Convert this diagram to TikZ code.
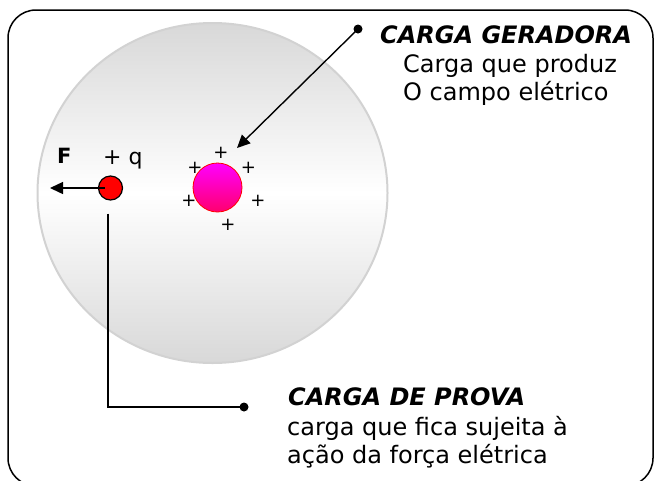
\documentclass[tikz,border=0pt]{standalone}
\usepackage{fontspec}
\setmainfont{DejaVu Sans}
\usetikzlibrary{arrows.meta}

\definecolor{discoCinza}{RGB}{216,216,216}
\definecolor{discoBorda}{RGB}{210,210,210}
\definecolor{magentaTopo}{RGB}{255,0,255}
\definecolor{magentaBase}{RGB}{255,0,110}

\tikzset{
    rotulo/.style={anchor=base west, inner sep=0pt, font=\fontsize{24}{28}\selectfont},
    titulo/.style={anchor=base west, inner sep=0pt, font=\fontsize{24}{28}\selectfont\bfseries\itshape},
    mais/.style={inner sep=0pt, font=\fontsize{18}{18}\selectfont},
    ponto/.style={circle, fill=black, inner sep=0pt, minimum size=9pt},
    seta/.style={line width=1.4pt, -{Triangle[length=13pt,width=12pt]}},
    ligacao/.style={line width=1.4pt},
}

\begin{document}
\begin{tikzpicture}[x=1pt, y=-1pt]
    \useasboundingbox (0,0) rectangle (655,480);
    % moldura
    \draw[line width=1.5pt, rounded corners=28pt] (8,10) rectangle (653,486);
    % disco do campo
    \shade[top color=discoCinza, bottom color=discoCinza, middle color=white]
        (212.5,193) ellipse [x radius=175, y radius=170];
    \draw[discoBorda, line width=2pt] (212.5,193) ellipse [x radius=175, y radius=170];

    % cargas
    \node[circle, draw=red, line width=0.8pt, top color=magentaTopo, bottom color=magentaBase,
          minimum width=47pt, minimum height=49pt, inner sep=0pt] (geradora) at (217.5,187.5) {};
    \foreach \n/\px/\py in {1/221/153, 2/195/168, 3/248.5/168, 4/189/201, 5/258/201, 6/228/225} {
        \node[mais] (mais\n) at (\px,\py) {+};
    }
    \node[circle, draw, fill=red, line width=1.2pt, minimum width=23pt, minimum height=24pt,
          inner sep=0pt] (prova) at (110.5,188) {};
    \node[anchor=base west, inner sep=0pt, font=\fontsize{22}{22}\selectfont] (qLabel) at (103,164) {+ q};
    \node[anchor=base west, inner sep=0pt, font=\fontsize{21}{21}\selectfont\bfseries] (fLabel) at (57,163) {F};

    % forca
    \coordinate (fPonta) at (50,188);
    \draw[seta] ([xshift=-6pt]prova.center) -- (fPonta);

    % carga geradora
    \node[ponto] (geradoraPonto) at (358,29) {};
    \coordinate (geradoraPonta) at (237,148);
    \draw[seta] (geradoraPonto.center) -- (geradoraPonta);
    \node[titulo] (geradoraTitulo) at (380,43) {CARGA GERADORA};
    \node[rotulo] (geradoraL1) at (403,72) {Carga que produz};
    \node[rotulo] (geradoraL2) at (403,100) {O campo elétrico};

    % carga de prova
    \node[ponto] (provaPonto) at (244,407) {};
    \draw[ligacao] ([xshift=-2.5pt,yshift=-13pt]prova.south) |- (provaPonto.center);
    \node[titulo] (provaTitulo) at (288,405) {CARGA DE PROVA};
    \node[rotulo] (provaL1) at (287,435) {carga que fica sujeita à};
    \node[rotulo] (provaL2) at (287,463) {ação da força elétrica};
\end{tikzpicture}
\end{document}
